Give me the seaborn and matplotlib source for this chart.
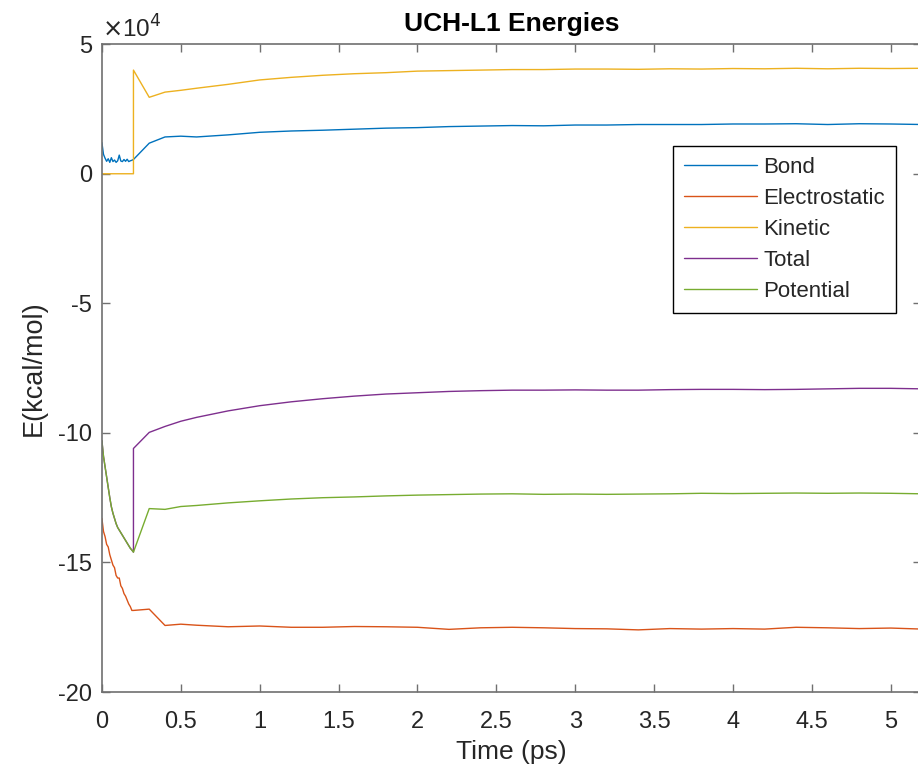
import numpy as np
import pandas as pd
import matplotlib
matplotlib.use("Agg")
import matplotlib.pyplot as plt
from matplotlib.ticker import FuncFormatter, FixedLocator
import seaborn as sns

# ---- data (energies in units of 1e4 kcal/mol) ----
t_early = [0.00, 0.01, 0.02, 0.03, 0.04, 0.05, 0.06, 0.07, 0.08, 0.09, 0.10,
           0.11, 0.12, 0.13, 0.14, 0.15, 0.16, 0.17, 0.18, 0.19, 0.20]
t_late = [0.2, 0.3, 0.4, 0.5, 0.6, 0.8, 1.0, 1.2, 1.4, 1.6, 1.8, 2.0, 2.2, 2.4,
          2.6, 2.8, 3.0, 3.2, 3.4, 3.6, 3.8, 4.0, 4.2, 4.4, 4.6, 4.8, 5.0, 5.2]

bond_early = [1.20, 0.75, 0.60, 0.48, 0.58, 0.44, 0.62, 0.47, 0.53, 0.44, 0.50,
              0.72, 0.49, 0.47, 0.55, 0.48, 0.56, 0.47, 0.50, 0.52, 0.55]
bond_late = [0.55, 1.18, 1.42, 1.45, 1.42, 1.50, 1.60, 1.65, 1.68, 1.72, 1.76,
             1.78, 1.82, 1.84, 1.86, 1.85, 1.88, 1.88, 1.90, 1.90, 1.90, 1.92,
             1.92, 1.93, 1.90, 1.93, 1.92, 1.90]

elec_early = [-13.30, -13.80, -14.00, -14.30, -14.40, -14.70, -14.90, -15.10,
              -15.20, -15.50, -15.60, -15.60, -15.90, -16.00, -16.20, -16.30,
              -16.45, -16.60, -16.70, -16.85, -16.85]
elec_late = [-16.85, -16.80, -17.43, -17.38, -17.42, -17.48, -17.45, -17.50,
             -17.50, -17.47, -17.48, -17.50, -17.58, -17.52, -17.50, -17.52,
             -17.55, -17.56, -17.60, -17.55, -17.57, -17.55, -17.57, -17.50,
             -17.52, -17.55, -17.53, -17.57]

kin_early = [0.0] * 21
kin_late = [4.00, 2.95, 3.15, 3.22, 3.30, 3.45, 3.62, 3.72, 3.80, 3.86, 3.90,
            3.96, 3.98, 4.00, 4.02, 4.02, 4.04, 4.04, 4.03, 4.05, 4.04, 4.06,
            4.05, 4.07, 4.05, 4.07, 4.06, 4.07]

pot_early = [-10.30, -10.90, -11.30, -11.70, -12.10, -12.50, -12.85, -13.10,
             -13.30, -13.50, -13.65, -13.75, -13.85, -13.95, -14.05, -14.15,
             -14.25, -14.35, -14.45, -14.52, -14.60]
pot_late = [-14.60, -12.92, -12.95, -12.84, -12.80, -12.70, -12.62, -12.55,
            -12.50, -12.47, -12.43, -12.40, -12.38, -12.36, -12.35, -12.37,
            -12.36, -12.37, -12.36, -12.35, -12.33, -12.34, -12.33, -12.32,
            -12.33, -12.32, -12.33, -12.35]

tot_early = list(pot_early)
tot_late = [-10.60, -9.98, -9.75, -9.55, -9.40, -9.15, -8.95, -8.80, -8.68,
            -8.58, -8.50, -8.45, -8.40, -8.37, -8.35, -8.35, -8.34, -8.35,
            -8.35, -8.33, -8.32, -8.32, -8.33, -8.32, -8.30, -8.28, -8.28, -8.30]

series_names = ["Bond", "Electrostatic", "Kinetic", "Total", "Potential"]
series_vals = [bond_early + bond_late, elec_early + elec_late,
               kin_early + kin_late, tot_early + tot_late, pot_early + pot_late]
colors = ["#0072BD", "#D95319", "#EDB120", "#7E2F8E", "#77AC30"]

x_ticks = [0, 0.5, 1, 1.5, 2, 2.5, 3, 3.5, 4, 4.5, 5]
y_ticks = [-20, -15, -10, -5, 0, 5]

t_all = t_early + t_late
rows = []
for name, vals in zip(series_names, series_vals):
    for i, (t, v) in enumerate(zip(t_all, vals)):
        rows.append({"t": t, "E": v, "series": name, "order": i})
df = pd.DataFrame(rows)

# ---- style ----
sns.set_style("ticks")
plt.rcParams["font.family"] = ["Liberation Sans", "DejaVu Sans"]
plt.rcParams["axes.unicode_minus"] = False

fig = plt.figure(figsize=(9.18, 7.75), dpi=100)
ax = fig.add_axes([0.111, 0.107, 0.892, 0.836])

sns.lineplot(data=df, x="t", y="E", hue="series", hue_order=series_names,
             palette=colors, estimator=None, sort=False, units="series",
             linewidth=1.0, ax=ax)

ax.set_xlim(0, 5.19)
ax.set_ylim(-20, 5)
ax.xaxis.set_major_locator(FixedLocator(x_ticks))
ax.yaxis.set_major_locator(FixedLocator(y_ticks))
ax.xaxis.set_major_formatter(FuncFormatter(lambda v, p: "%g" % v))
ax.yaxis.set_major_formatter(FuncFormatter(lambda v, p: "%g" % v))

axis_col = "#707070"
for s in ax.spines.values():
    s.set_visible(True)
    s.set_color(axis_col)
    s.set_linewidth(1.2)
ax.tick_params(direction="in", length=6, width=1, color=axis_col,
               top=True, right=True, labelsize=17, labelcolor="#262626")
ax.tick_params(axis="x", pad=13.5)
ax.tick_params(axis="y", pad=7)

ax.set_xlabel("Time (ps)", fontsize=19, color="#262626", labelpad=5)
ax.set_ylabel("E(kcal/mol)", fontsize=19.5, color="#262626", labelpad=8)
ax.set_title("UCH-L1 Energies", fontsize=19, fontweight="bold", color="black", pad=9.5)

ax.text(0.0, 1.003, r"$\times$10$^4$", transform=ax.transAxes, fontsize=17.5,
        color="#262626", ha="left", va="bottom")

leg = ax.legend(loc="upper left", bbox_to_anchor=(0.697, 0.8426), fontsize=16,
                handlelength=3.3, labelspacing=0.45, frameon=True, fancybox=False,
                borderaxespad=0, handletextpad=0.27, borderpad=0.5)
leg.get_frame().set_edgecolor("black")
leg.get_frame().set_linewidth(1.0)
leg.get_frame().set_alpha(1)

fig.savefig("out.png", dpi=100)
